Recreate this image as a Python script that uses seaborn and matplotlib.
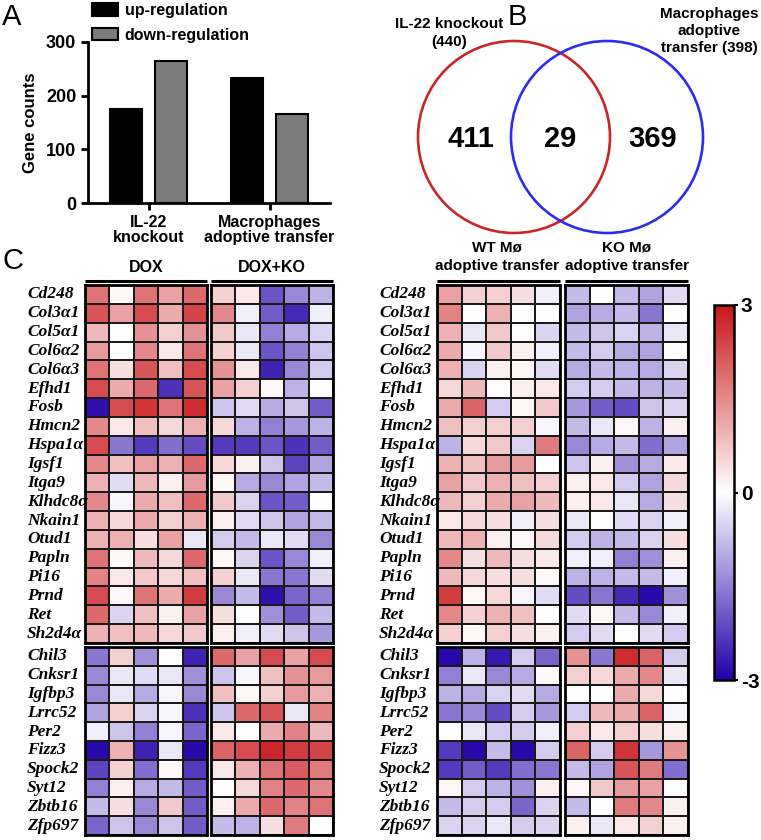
import numpy as np
import pandas as pd
import seaborn as sns
import matplotlib.pyplot as plt
from matplotlib.colors import LinearSegmentedColormap
from matplotlib.patches import Circle

# ---- panel A: gene counts
groups = ["IL-22\nknockout", "Macrophages\nadoptive transfer"]
up_counts = [175, 232]
down_counts = [265, 166]

# ---- panel B: venn
venn_labels = ["IL-22 knockout\n(440)", "Macrophages\nadoptive\ntransfer (398)"]
venn_counts = [411, 29, 369]

# ---- panel C: heatmaps (z-scores)
genes_up = ["Cd248", "Col3α1", "Col5α1", "Col6α2", "Col6α3", "Efhd1", "Fosb", "Hmcn2",
            "Hspa1α", "Igsf1", "Itga9", "Klhdc8α", "Nkain1", "Otud1", "Papln", "Pi16",
            "Prnd", "Ret", "Sh2d4α"]
genes_down = ["Chil3", "Cnksr1", "Igfbp3", "Lrrc52", "Per2", "Fizz3", "Spock2", "Syt12",
              "Zbtb16", "Zfp697"]

dox_up = [
    [1.8, 0.1, 1.8, 1.2, 1.9], [2.2, 1.2, 2.3, 1.1, 2.4], [0.9, 0.0, 1.4, 0.6, 1.4],
    [1.3, 0.0, 1.5, 0.3, 1.8], [1.8, 0.4, 2.2, 0.8, 2.3], [2.3, 1.1, 1.9, -2.4, 2.2],
    [-2.8, 2.3, 2.6, 1.8, 2.7], [1.5, 0.3, 0.8, 0.5, 1.0], [2.3, -1.6, -2.3, -1.7, -2.1],
    [1.5, 0.8, 1.2, 1.0, 1.9], [1.0, -0.4, 0.9, 0.2, 1.3], [1.5, -0.1, 1.1, 0.8, 1.9],
    [1.0, 0.5, 1.1, 0.6, 1.0], [1.0, 1.0, 0.4, 1.2, -0.3], [1.8, 0.1, 0.9, 0.5, 1.9],
    [1.6, 0.3, 0.7, 0.5, 0.8], [2.3, 0.1, 1.8, 1.1, 2.5], [1.9, -0.5, 0.8, 0.2, 1.2],
    [1.0, 0.8, 0.9, 0.5, 0.7]]
doxko_up = [
    [0.6, 0.3, -2.0, -1.4, -0.9], [1.5, -0.2, -1.9, -2.5, -0.2], [0.7, -0.3, -1.5, -1.0, -0.5],
    [0.6, -0.3, -2.0, -1.5, -0.7], [1.4, 0.3, -2.6, -1.4, -0.6], [1.2, 0.6, 0.1, -0.9, 0.0],
    [-0.7, -0.4, -1.0, -0.7, -1.9], [0.5, -0.9, -1.5, -1.2, -0.9], [-2.3, -2.3, -2.0, -2.4, -1.9],
    [0.5, 0.2, -0.7, -2.2, -1.1], [0.1, -1.0, -1.4, -1.1, -0.8], [0.7, -0.5, -2.0, -1.9, 0.0],
    [0.2, -0.4, -0.7, -1.1, -0.8], [-0.6, -0.8, -0.3, -0.4, -1.4], [0.1, -0.5, -2.0, -1.4, -0.2],
    [0.6, -0.3, -1.6, -1.6, -0.4], [-1.4, -0.8, -2.8, -1.8, -1.5], [0.4, 0.0, -1.3, -1.9, -0.8],
    [0.2, -0.2, -0.4, -0.7, -1.2]]
dox_down = [
    [-1.6, 0.6, -1.3, 0.0, -2.6], [-1.4, -0.3, -0.4, -0.3, -1.3], [-1.4, -0.3, -1.0, -0.1, -1.4],
    [-1.1, 0.6, -0.5, -0.1, -2.4], [-0.2, -0.7, -1.5, -0.1, -1.8], [-2.9, 1.0, -2.6, -0.3, -2.9],
    [-2.2, 0.6, -1.7, 0.1, -2.3], [-1.5, 0.2, -1.0, -0.8, -1.9], [-0.8, 0.4, -1.4, 0.7, -1.9],
    [-1.8, -0.7, -1.4, -0.7, -1.9]]
doxko_down = [
    [1.9, 1.2, 2.3, 1.2, 2.3], [-0.7, -0.1, 0.8, 1.4, 1.3], [0.8, 0.1, 0.6, 1.3, 1.0],
    [-0.7, 1.9, 2.2, -0.3, 1.6], [0.3, 0.0, 1.1, 1.6, 0.9], [2.0, 2.3, 2.8, 2.5, 2.4],
    [0.3, 1.0, 1.8, 2.1, 1.7], [0.0, 0.5, 1.6, 1.9, 1.5], [0.2, 1.1, 1.9, 1.6, 1.8],
    [-0.8, -0.9, 0.4, 1.7, 0.0]]

wt_up = [
    [1.2, 0.6, 0.6, 0.4, -0.2], [1.6, 0.0, 1.0, 0.0, 0.0], [1.0, -0.3, 0.7, 0.0, -0.5],
    [1.1, -0.1, 0.7, 0.2, -0.2], [1.0, -0.5, 0.2, 0.1, -0.4], [0.5, 0.9, 0.0, 0.2, 0.3],
    [1.1, 2.0, -0.6, 0.1, 0.7], [0.8, 0.6, 0.6, 0.6, -0.1], [-0.9, 0.5, 0.7, -0.5, 1.7],
    [1.0, 0.8, 1.3, 1.3, 0.0], [1.2, 0.7, 1.0, 0.8, 0.6], [0.9, 0.6, 1.1, 1.2, 0.9],
    [0.3, 0.5, 0.4, -0.2, 0.4], [0.9, 1.0, 0.2, 0.1, 0.5], [1.5, 0.4, 0.9, 0.4, 0.3],
    [0.9, 0.5, 0.4, 0.4, 0.1], [2.5, 0.1, 0.5, -0.1, -0.4], [1.5, 0.6, 1.0, 0.8, 0.0],
    [0.6, 0.1, 0.6, 0.4, 0.2]]
komo_up = [
    [-0.8, 0.0, -0.8, -1.1, -0.4], [-1.1, -1.0, -0.8, -1.6, 0.0], [-0.8, -0.7, -0.5, -0.9, -0.3],
    [-0.8, -0.6, -1.0, -1.1, 0.0], [-1.0, -0.8, -0.9, -1.0, -0.5], [-0.6, -0.6, -0.8, -0.9, -0.8],
    [-1.2, -1.9, -2.1, -0.7, -0.5], [-0.8, -0.3, 0.1, -0.9, 0.2], [-1.4, -1.0, -0.8, -1.7, -1.1],
    [-0.7, 0.2, -1.3, -1.0, 0.3], [0.2, 0.3, -0.6, -1.1, 0.5], [0.2, 0.3, -0.3, -1.0, 0.4],
    [-0.3, 0.0, -0.4, -0.5, -0.2], [-0.6, -0.9, -0.8, -0.5, 0.4], [-0.2, -0.2, -1.5, -1.3, 0.2],
    [-0.9, -0.9, -0.8, -0.8, -0.2], [-2.1, -1.6, -2.5, -2.9, -1.3], [-0.4, 0.1, -0.8, -1.4, -0.2],
    [-0.6, -0.4, 0.0, -0.4, -0.6]]
wt_down = [
    [-2.9, -0.9, -2.7, -0.6, -1.8], [-1.5, -0.3, -1.4, -1.0, 0.1], [-0.9, -1.0, -0.5, -0.4, -1.0],
    [-1.6, -1.4, -2.1, -0.6, -1.2], [0.0, -0.3, -0.6, -0.6, -0.2], [-2.3, -2.9, -0.8, -2.9, -0.6],
    [-2.3, -1.9, -2.3, -1.7, -1.6], [0.1, -0.6, -0.9, -1.3, 0.2], [-0.8, -0.6, -0.6, -1.8, -0.5],
    [-0.5, -0.5, -0.3, -0.6, -0.5]]
komo_down = [
    [1.4, -1.6, 2.7, 2.0, -0.6], [0.6, 0.5, 1.1, 1.5, -0.3], [0.0, 0.0, 1.1, 0.5, 0.0],
    [-0.6, 0.9, 1.1, 2.0, -0.1], [0.6, 0.3, 0.6, 0.4, 0.2], [2.0, -0.6, 2.6, -1.2, 1.4],
    [-0.8, -1.1, 2.2, 1.7, -1.7], [0.1, 0.7, 1.3, 1.2, 0.0], [-0.8, 0.0, 1.7, 1.5, 0.2],
    [0.2, -0.3, 0.3, 0.6, 0.2]]

W, H = 761, 840
plt.rcParams['font.family'] = ['Liberation Sans', 'DejaVu Sans']
plt.rcParams['font.weight'] = 'bold'
fig = plt.figure(figsize=(W / 100, H / 100), dpi=100)


def px_axes(x0, y0, x1, y1):
    return fig.add_axes([x0 / W, 1 - y1 / H, (x1 - x0) / W, (y1 - y0) / H])


def ftext(x, y, s, **kw):
    fig.text(x / W, 1 - y / H, s, **kw)


# panel letters
ftext(2, 3, "A", fontsize=21, fontweight="normal", va="top")
ftext(508, 3, "B", fontsize=21, fontweight="normal", va="top")
ftext(2, 247, "C", fontsize=21, fontweight="normal", va="top")

# ---- A: bar chart
bar_df = pd.DataFrame({
    "group": groups * 2,
    "direction": ["up-regulation"] * 2 + ["down-regulation"] * 2,
    "count": up_counts + down_counts,
})
ax = px_axes(88, 42, 330, 203)
sns.barplot(data=bar_df, x="group", y="count", hue="direction", palette=["black", "#7b7b7b"],
            width=0.74, gap=0.28, edgecolor="black", linewidth=1.5, errorbar=None, ax=ax)
ax.set_ylim(0, 300)
ax.set_yticks([0, 100, 200, 300])
ax.set_xlabel("")
ax.set_ylabel("Gene counts", fontsize=12, fontweight="bold", labelpad=6)
sns.despine(ax=ax)
for s in ["left", "bottom"]:
    ax.spines[s].set_linewidth(2)
ax.tick_params(axis="y", width=2, length=5, labelsize=13)
ax.tick_params(axis="x", width=2, length=5, labelsize=11.5)
for t in ax.get_xticklabels():
    t.set_linespacing(1.05)
handles, labels = ax.get_legend_handles_labels()
ax.legend(handles, labels, loc="upper left", bbox_to_anchor=(92 / W, 1 - 3 / H),
          bbox_transform=fig.transFigure, frameon=False, fontsize=11.5, borderpad=0,
          borderaxespad=0, handlelength=1.65, handleheight=0.85, handletextpad=0.4,
          labelspacing=0.6)

# ---- B: venn
axv = px_axes(380, 0, 761, 245)
axv.set_xlim(380, 761)
axv.set_ylim(245, 0)
axv.axis("off")
axv.add_patch(Circle((514, 137), 96, fill=False, ec="#c9262a", lw=1.9))
axv.add_patch(Circle((607, 137), 96, fill=False, ec="#2d2bf2", lw=1.9))
for xc, n in zip([471, 560, 653], venn_counts):
    axv.text(xc, 139, str(n), ha="center", va="center", fontsize=21, fontweight="bold")
axv.text(449, 33, venn_labels[0], ha="center", va="center", fontsize=11, linespacing=1.3)
axv.text(709, 31, venn_labels[1], ha="center", va="center", fontsize=11, linespacing=1.3)

# ---- C: heatmaps
cmap = LinearSegmentedColormap.from_list("bwr_c", ["#2200a8", "#ffffff", "#c8161b"])
cax = px_axes(714, 305, 734, 680)


def block(data, rows, box, labels=False, cbar=False):
    a = px_axes(*box)
    df = pd.DataFrame(data, index=rows)
    sns.heatmap(df, ax=a, cmap=cmap, vmin=-3, vmax=3, linewidths=1.2, linecolor="#1a1a1a",
                cbar=cbar, cbar_ax=cax if cbar else None,
                xticklabels=False, yticklabels=rows if labels else False)
    for s in a.spines.values():
        s.set_visible(True)
        s.set_linewidth(2)
    a.tick_params(axis="y", length=0, pad=41.8)
    if labels:
        for t in a.get_yticklabels():
            t.set_rotation(0)
            t.set_ha("left")
            t.set_fontfamily("Liberation Serif")
            t.set_fontstyle("italic")
            t.set_fontweight("bold")
            t.set_fontsize(12.5)
    return a


def header(a):
    a.plot([0, 1], [1.0098, 1.0098], transform=a.transAxes, clip_on=False, color="black",
           lw=2.2, solid_capstyle="butt")


top_y, mid_y, gap_y, bot_y = 285, 643, 647, 835

a1 = block(dox_up, genes_up, (85, top_y, 207, mid_y), labels=True, cbar=True)
a2 = block(doxko_up, genes_up, (211, top_y, 333, mid_y))
block(dox_down, genes_down, (85, gap_y, 207, bot_y), labels=True)
block(doxko_down, genes_down, (211, gap_y, 333, bot_y))
a3 = block(wt_up, genes_up, (437, top_y, 560, mid_y), labels=True)
a4 = block(komo_up, genes_up, (565, top_y, 688, mid_y))
block(wt_down, genes_down, (437, gap_y, 560, bot_y), labels=True)
block(komo_down, genes_down, (565, gap_y, 688, bot_y))

for a in [a1, a2, a3, a4]:
    header(a)
ftext(146, 268, "DOX", ha="center", va="center", fontsize=11.5)
ftext(272, 268, "DOX+KO", ha="center", va="center", fontsize=11.5)
ftext(497, 257, "WT Mø\nadoptive transfer", ha="center", va="center", fontsize=11,
      linespacing=1.4)
ftext(627, 257, "KO Mø\nadoptive transfer", ha="center", va="center", fontsize=11,
      linespacing=1.4)

cbar = a1.collections[0].colorbar
cbar.set_ticks([-3, 0, 3])
cbar.set_ticklabels(["-3", "0", "3"], fontsize=15, fontweight="bold")
cax.tick_params(length=3, width=1.5, pad=2)
cbar.outline.set_linewidth(1.8)

fig.savefig("out.png", dpi=100)
